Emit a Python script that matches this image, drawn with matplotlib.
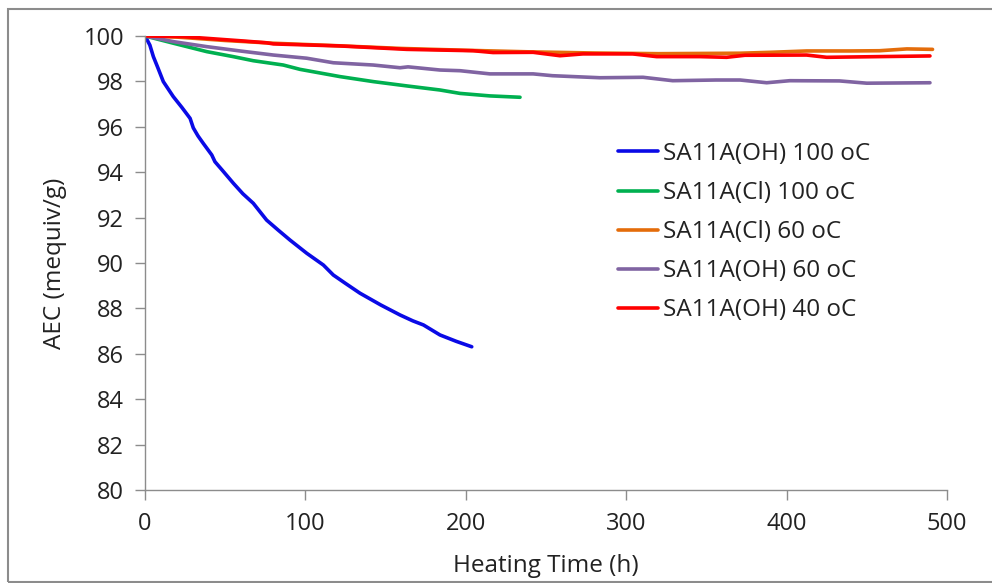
import matplotlib; matplotlib.use("Agg")
import matplotlib.pyplot as plt
from matplotlib.patches import Rectangle

plt.rcParams["font.family"] = ["Open Sans", "DejaVu Sans"]

# --- datos ---
t_oh100 = [0, 3, 5.2, 8, 11.4, 17.6, 23, 28.1, 30.1, 33, 36.3, 41.6, 43.6, 48, 55.1, 61, 67.5, 75.8,
           83, 90.4, 100.8, 111.2, 117.4, 125, 134, 147, 159, 167, 173.6, 183.9, 194, 203.7]
aec_oh100 = [100, 99.6, 99.09, 98.6, 97.99, 97.33, 96.85, 96.37, 95.95, 95.6, 95.27, 94.76, 94.46,
             94.1, 93.51, 93.05, 92.63, 91.89, 91.45, 91.01, 90.43, 89.91, 89.47, 89.1, 88.67,
             88.15, 87.71, 87.45, 87.27, 86.83, 86.55, 86.31]

t_cl100 = [0, 17.7, 38.5, 55, 67.5, 86.2, 96.6, 121.6, 142.3, 163.2, 183.9, 196.4, 215, 233.8]
aec_cl100 = [100, 99.68, 99.31, 99.09, 98.91, 98.72, 98.53, 98.21, 97.99, 97.80, 97.62, 97.47, 97.36, 97.30]

t_cl60 = [0, 20, 50, 80, 120, 160, 200, 240, 280, 320, 371, 390, 412.5, 440, 458, 475, 491]
aec_cl60 = [100, 99.95, 99.8, 99.68, 99.57, 99.45, 99.37, 99.3, 99.25, 99.22, 99.24, 99.28,
            99.34, 99.34, 99.35, 99.43, 99.41]

t_oh60 = [0, 17.7, 38.5, 59.2, 80, 100.8, 117.4, 142.3, 159, 164, 183.9, 196.4, 215, 242, 254,
          283.7, 310.5, 329, 356, 371, 387.6, 402, 433, 450, 489.4]
aec_oh60 = [100, 99.75, 99.53, 99.34, 99.16, 99.02, 98.82, 98.72, 98.60, 98.64, 98.50, 98.47,
            98.33, 98.33, 98.25, 98.16, 98.18, 98.03, 98.06, 98.06, 97.94, 98.03, 98.02, 97.92, 97.94]

t_oh40 = [0, 23.9, 59.2, 75.8, 80, 121.6, 163.2, 204.6, 217, 242, 258.7, 273, 304, 319, 346,
          362.6, 374, 412.5, 425, 489.4]
aec_oh40 = [100, 99.97, 99.79, 99.70, 99.65, 99.56, 99.41, 99.35, 99.27, 99.28, 99.13, 99.21,
            99.21, 99.09, 99.09, 99.06, 99.15, 99.16, 99.06, 99.12]

series = [
    ("SA11A(OH) 100 oC", t_oh100, aec_oh100, "#0A0AE6"),
    ("SA11A(Cl) 100 oC", t_cl100, aec_cl100, "#00B050"),
    ("SA11A(Cl) 60 oC", t_cl60, aec_cl60, "#E46C0A"),
    ("SA11A(OH) 60 oC", t_oh60, aec_oh60, "#8064A2"),
    ("SA11A(OH) 40 oC", t_oh40, aec_oh40, "#FF0000"),
]

fig = plt.figure(figsize=(9.92, 5.83), dpi=100)
ax = fig.add_axes([0.1462, 0.1595, 0.8084, 0.7788])
for lab, t, v, c in series:
    ax.plot(t, v, color=c, lw=2.6, label=lab, solid_capstyle="round")

ax.set_xlim(0, 500); ax.set_ylim(80, 100)
ax.set_xticks(range(0, 501, 100)); ax.set_yticks(range(80, 101, 2))
for s in ["top", "right"]:
    ax.spines[s].set_visible(False)
for s in ["left", "bottom"]:
    ax.spines[s].set_color("#8C8C8C"); ax.spines[s].set_linewidth(1)
ax.tick_params(direction="out", length=7, width=1, color="#8C8C8C", labelsize=17,
               labelcolor="#222222")
ax.tick_params(axis="y", pad=8)
ax.tick_params(axis="x", pad=9)
ax.set_xlabel("Heating Time (h)", fontsize=17.5, color="#222222", labelpad=13)
ax.set_ylabel("AEC (mequiv/g)", fontsize=17.5, color="#222222", labelpad=12)

leg = ax.legend(loc="upper left", bbox_to_anchor=(0.578, 0.788), frameon=False, fontsize=17.5,
                handlelength=1.65, handletextpad=0.2, labelspacing=0.62, borderaxespad=0)
for txt in leg.get_texts():
    txt.set_color("#222222")

# marco gris del gráfico
fig.patches.append(Rectangle((8 / 992, 1 / 583), 1.2, 1 - 10 / 583, transform=fig.transFigure,
                             fill=False, edgecolor="#8C8C8C", lw=1.5))

plt.savefig("out.png", dpi=100)
